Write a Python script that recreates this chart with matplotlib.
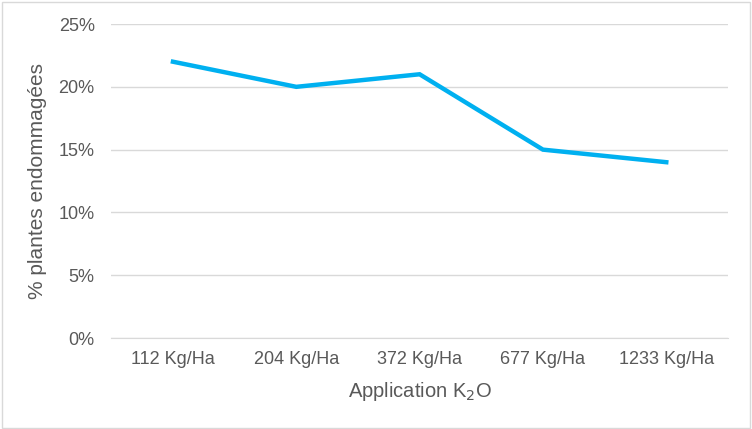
import matplotlib.pyplot as plt
from matplotlib.ticker import PercentFormatter
from matplotlib.patches import Rectangle

plt.rcParams['font.family'] = ['Liberation Sans', 'DejaVu Sans']

categories = ['112 Kg/Ha', '204 Kg/Ha', '372 Kg/Ha', '677 Kg/Ha', '1233 Kg/Ha']
damaged = [0.22, 0.20, 0.21, 0.15, 0.14]
yticks = [0, 0.05, 0.10, 0.15, 0.20, 0.25]

TXT = '#595959'
fig = plt.figure(figsize=(7.52, 4.29), dpi=100)
ax = fig.add_axes([0.148, 0.212, 0.820, 0.732])
fig.patches.append(Rectangle((0.002, 0.003), 0.995, 0.993, transform=fig.transFigure,
                             fill=False, edgecolor='#D9D9D9', linewidth=1))

x = range(len(categories))
ax.plot(x, damaged, color='#00B0F0', linewidth=3.2, solid_joinstyle='miter')
ax.set_xlim(-0.5, len(categories) - 0.5)
ax.set_ylim(0, 0.25)
ax.set_yticks(yticks)
ax.yaxis.set_major_formatter(PercentFormatter(1.0, decimals=0))
ax.set_xticks(list(x))
ax.set_xticklabels(categories)
ax.grid(True, axis='y', color='#D9D9D9', linewidth=1)
ax.set_axisbelow(True)
for s in ['left', 'right', 'top']:
    ax.spines[s].set_visible(False)
ax.spines['bottom'].set_color('#D9D9D9')
ax.tick_params(axis='both', length=0, labelsize=13, colors=TXT)
ax.tick_params(axis='y', pad=12)
ax.tick_params(axis='x', pad=9)
ax.set_xlabel('Application K$_2$O', fontsize=14.5, color=TXT, labelpad=9)
ax.set_ylabel('% plantes endommagées', fontsize=15, color=TXT, labelpad=8)

fig.savefig('out.png', dpi=100)
